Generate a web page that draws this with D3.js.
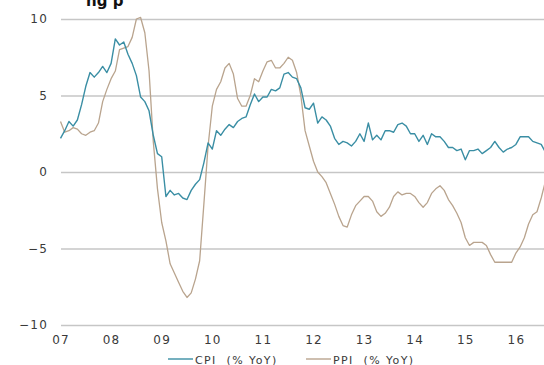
<!DOCTYPE html>
<html>
<head>
<meta charset="utf-8">
<script src="https://cdn.jsdelivr.net/npm/d3@7"></script>
<style>
  html, body { margin: 0; padding: 0; background: #fff; }
  svg { display: block; }
  text { font-family: "DejaVu Sans", sans-serif; }
</style>
</head>
<body>
<svg id="chart" width="544" height="365"></svg>
<script>
// China CPI and PPI, % year on year, monthly from Jan 2007 to Aug 2016
const startYear = 2007;
const cpi = [
  2.2, 2.7, 3.3, 3.0, 3.4, 4.4, 5.6, 6.5, 6.2, 6.5, 6.9, 6.5,
  7.1, 8.7, 8.3, 8.5, 7.7, 7.1, 6.3, 4.9, 4.6, 4.0, 2.4, 1.2,
  1.0, -1.6, -1.2, -1.5, -1.4, -1.7, -1.8, -1.2, -0.8, -0.5, 0.6, 1.9,
  1.5, 2.7, 2.4, 2.8, 3.1, 2.9, 3.3, 3.5, 3.6, 4.4, 5.1, 4.6,
  4.9, 4.9, 5.4, 5.3, 5.5, 6.4, 6.5, 6.2, 6.1, 5.5, 4.2, 4.1,
  4.5, 3.2, 3.6, 3.4, 3.0, 2.2, 1.8, 2.0, 1.9, 1.7, 2.0, 2.5,
  2.0, 3.2, 2.1, 2.4, 2.1, 2.7, 2.7, 2.6, 3.1, 3.2, 3.0, 2.5,
  2.5, 2.0, 2.4, 1.8, 2.5, 2.3, 2.3, 2.0, 1.6, 1.6, 1.4, 1.5,
  0.8, 1.4, 1.4, 1.5, 1.2, 1.4, 1.6, 2.0, 1.6, 1.3, 1.5, 1.6,
  1.8, 2.3, 2.3, 2.3, 2.0, 1.9, 1.8, 1.3
];
const ppi = [
  3.3, 2.6, 2.7, 2.9, 2.8, 2.5, 2.4, 2.6, 2.7, 3.2, 4.6, 5.4,
  6.1, 6.6, 8.0, 8.1, 8.2, 8.8, 10.0, 10.1, 9.1, 6.6, 2.0, -1.1,
  -3.3, -4.5, -6.0, -6.6, -7.2, -7.8, -8.2, -7.9, -7.0, -5.8, -2.1, 1.7,
  4.3, 5.4, 5.9, 6.8, 7.1, 6.4, 4.8, 4.3, 4.3, 5.0, 6.1, 5.9,
  6.6, 7.2, 7.3, 6.8, 6.8, 7.1, 7.5, 7.3, 6.5, 5.0, 2.7, 1.7,
  0.7, 0.0, -0.3, -0.7, -1.4, -2.1, -2.9, -3.5, -3.6, -2.8, -2.2, -1.9,
  -1.6, -1.6, -1.9, -2.6, -2.9, -2.7, -2.3, -1.6, -1.3, -1.5, -1.4, -1.4,
  -1.6, -2.0, -2.3, -2.0, -1.4, -1.1, -0.9, -1.2, -1.8, -2.2, -2.7, -3.3,
  -4.3, -4.8, -4.6, -4.6, -4.6, -4.8, -5.4, -5.9, -5.9, -5.9, -5.9, -5.9,
  -5.3, -4.9, -4.3, -3.4, -2.8, -2.6, -1.7, -0.6
];
const yearTicks = [2007, 2008, 2009, 2010, 2011, 2012, 2013, 2014, 2015, 2016];
const yTicks = [-10, -5, 0, 5, 10];
const seriesNames = ["CPI  (% YoY)", "PPI  (% YoY)"];
const titleFragment = "ng p";

const svg = d3.select("#chart");
const W = 544;

const x = d3.scaleLinear()
  .domain([startYear, startYear + (cpi.length - 1) / 12])
  .range([60.5, 60.5 + (cpi.length - 1) / 12 * 50.6]);
const y = d3.scaleLinear().domain([-10, 10]).range([325, 19]);

// heading, running off the top edge
svg.append("text")
  .attr("x", 86).attr("y", 6)
  .attr("font-size", 15).attr("font-weight", "bold")
  .attr("font-family", "Liberation Sans, Arial, sans-serif")
  .attr("fill", "#111")
  .text(titleFragment);

// horizontal gridlines with value labels
const yAxis = svg.append("g")
  .attr("transform", "translate(61,0)")
  .call(d3.axisLeft(y).tickValues(yTicks).tickSize(-(W - 61)).tickPadding(13)
    .tickFormat(d3.format("d")));
yAxis.select(".domain").remove();
yAxis.selectAll(".tick line")
  .attr("stroke", d => d === -5 ? "#a9a9a9" : "#c6c6c6")
  .attr("stroke-width", d => d === -5 ? 1 : 1.6);
yAxis.selectAll(".tick text")
  .attr("font-size", 12).attr("fill", "#3a3a3a")
  .attr("letter-spacing", "1.2px")
  .style("font-family", "DejaVu Sans, sans-serif");

// year labels
const xAxis = svg.append("g")
  .attr("transform", "translate(0,325)")
  .call(d3.axisBottom(x).tickValues(yearTicks).tickSize(0).tickPadding(10)
    .tickFormat(d => String(d % 100).padStart(2, "0")));
xAxis.select(".domain").remove();
xAxis.selectAll(".tick text")
  .attr("font-size", 12).attr("fill", "#3a3a3a")
  .attr("letter-spacing", "1.2px")
  .style("font-family", "DejaVu Sans, sans-serif");

const line = d3.line()
  .x((d, i) => x(startYear + i / 12))
  .y(d => y(d));

const ppiColor = "#b9a48e";
const cpiColor = "#3a8ea4";

svg.append("path").datum(ppi)
  .attr("fill", "none").attr("stroke", ppiColor).attr("stroke-width", 1.3)
  .attr("stroke-linejoin", "round")
  .attr("d", line);
svg.append("path").datum(cpi)
  .attr("fill", "none").attr("stroke", cpiColor).attr("stroke-width", 1.4)
  .attr("stroke-linejoin", "round")
  .attr("d", line);

// legend
const legend = [
  { name: seriesNames[0], color: cpiColor, x0: 168 },
  { name: seriesNames[1], color: ppiColor, x0: 306 }
];
const lg = svg.append("g");
legend.forEach(l => {
  lg.append("line")
    .attr("x1", l.x0).attr("x2", l.x0 + 25)
    .attr("y1", 359).attr("y2", 359)
    .attr("stroke", l.color).attr("stroke-width", 1.4);
  lg.append("text")
    .attr("x", l.x0 + 27).attr("y", 363.5)
    .attr("font-size", 11).attr("fill", "#3a3a3a")
    .attr("letter-spacing", "1.4px")
    .attr("xml:space", "preserve")
    .style("white-space", "pre")
    .text(l.name);
});
</script>
</body>
</html>
